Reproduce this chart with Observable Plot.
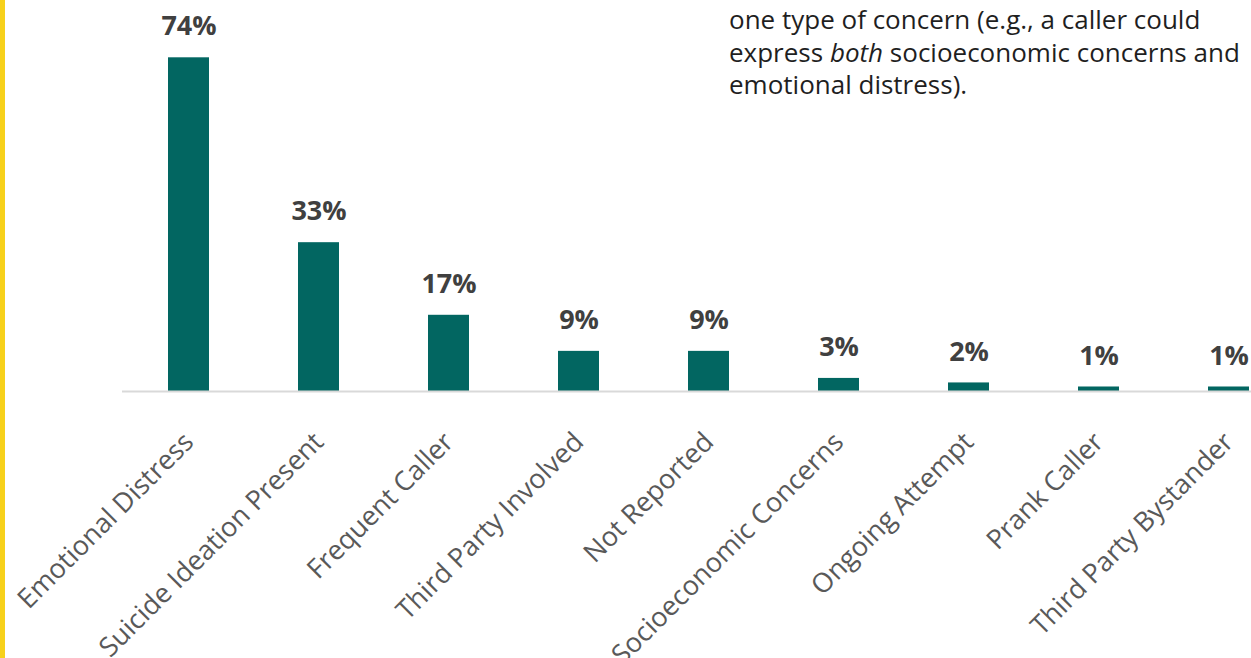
<!DOCTYPE html>
<html>
<head>
<meta charset="utf-8">
<script src="https://cdn.jsdelivr.net/npm/d3@7"></script>
<script src="https://cdn.jsdelivr.net/npm/@observablehq/plot@0.6"></script>
<style>
  html, body { margin: 0; padding: 0; overflow: hidden; background: #fff; }
  #wrap { position: relative; width: 1251px; height: 658px; overflow: hidden; background: #fff; }
  #yellow { position: absolute; left: 0; top: 0; width: 5px; height: 658px; background: #f7d11b; }
  #note { position: absolute; left: 729px; top: 3px; width: 540px; font-family: "Open Sans", sans-serif;
          font-size: 26px; line-height: 32.5px; color: #1f1f1f; white-space: nowrap; }
</style>
</head>
<body>
<div id="wrap">
  <div id="chart"></div>
  <div id="yellow"></div>
  <div id="note">one type of concern (e.g., a caller could<br>express <i>both</i> socioeconomic concerns and<br>emotional distress).</div>
</div>
<script>
const categories = ["Emotional Distress", "Suicide Ideation Present", "Frequent Caller", "Third Party Involved",
  "Not Reported", "Socioeconomic Concerns", "Ongoing Attempt", "Prank Caller", "Third Party Bystander"];
const values = [74, 33, 16.9, 8.9, 8.9, 2.9, 1.9, 1, 1];
const valueLabels = ["74%", "33%", "17%", "9%", "9%", "3%", "2%", "1%", "1%"];

const data = categories.map((c, i) => ({category: c, value: values[i], label: valueLabels[i]}));

const chart = Plot.plot({
  width: 1251,
  height: 658,
  marginLeft: 122,
  marginRight: 0,
  marginTop: 0,
  marginBottom: 267,
  style: {background: "transparent", overflow: "visible"},
  x: {domain: categories, range: [121.6, 1295.2], paddingInner: 0.686, paddingOuter: 0.343, label: null},
  y: {domain: [0, 74], range: [391, 57.3], axis: null},
  marks: [
    Plot.barY(data, {x: "category", y: "value", fill: "#026661"}),
    Plot.ruleY([0], {stroke: "#d9d9d9", strokeWidth: 2}),
    Plot.text(data, {x: "category", y: "value", text: "label", dy: -31, fontSize: 27, fontWeight: "bold",
      fill: "#404040", fontFamily: "Open Sans, sans-serif"}),
    Plot.axisX({tickSize: 0, tickPadding: 26, dy: 20, tickRotate: -45, fontSize: 27, fill: "#595959",
      fontFamily: "Open Sans, sans-serif", label: null})
  ]
});
document.getElementById("chart").appendChild(chart);
</script>
</body>
</html>
